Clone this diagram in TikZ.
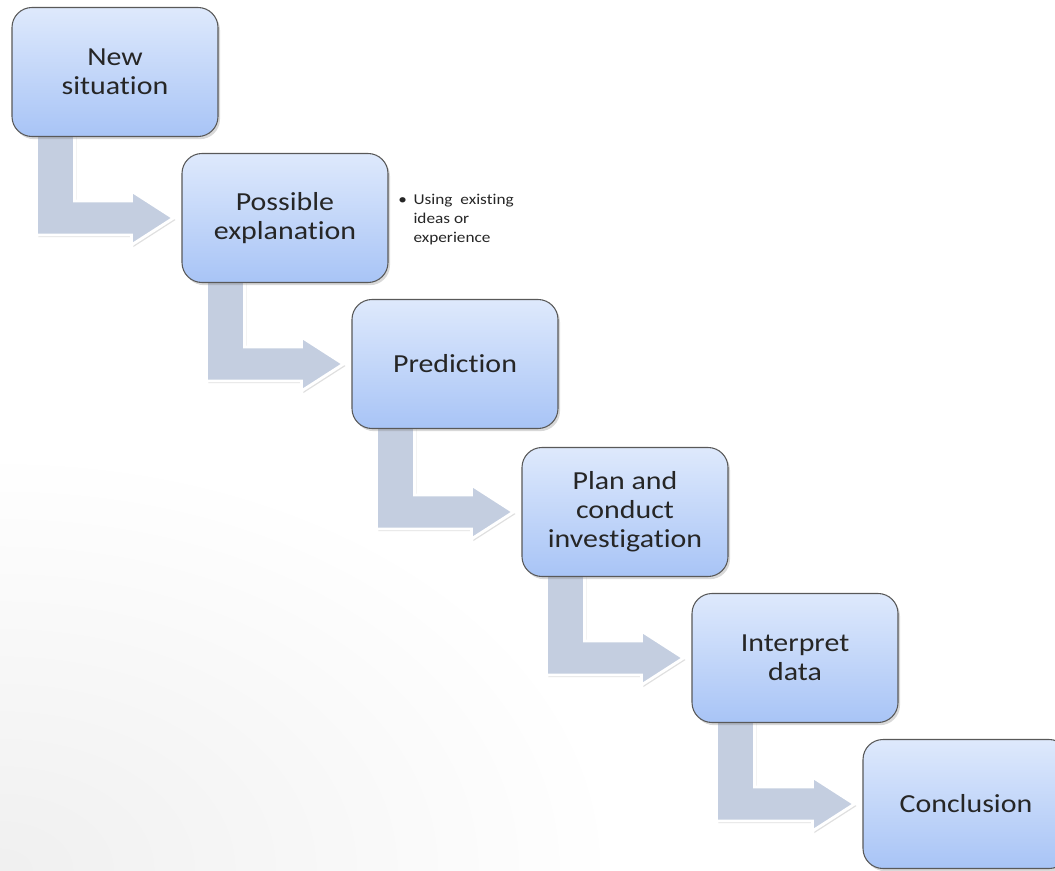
\documentclass[tikz,border=0pt]{standalone}
\usepackage{fontspec}
\setmainfont{Carlito}[FakeStretch=1.15, Ligatures=NoCommon]
\usetikzlibrary{calc,shadows}
\pgfdeclarelayer{backdrop}
\pgfdeclarelayer{background}
\pgfsetlayers{backdrop,background,main}

\definecolor{boxtop}{RGB}{222,233,252}
\definecolor{boxbottom}{RGB}{168,196,246}
\definecolor{arrowfill}{RGB}{196,206,224}
\definecolor{inktext}{RGB}{38,38,38}

\tikzset{
  stage/.style={draw=black!65, line width=0.8pt, rounded corners=15pt,
    top color=boxtop, bottom color=boxbottom,
    minimum width=154.5pt, minimum height=96.75pt,
    align=center, text=inktext, font=\fontsize{19.5}{21.75}\selectfont,
    drop shadow={shadow xshift=1.5pt, shadow yshift=-2pt, opacity=0.3}},
  flowarrow/.style={fill=arrowfill, draw=white, line width=2.2pt,
    drop shadow={shadow xshift=1.5pt, shadow yshift=-1.5pt, opacity=0.25}},
  note/.style={align=left, text=inktext, inner sep=0pt,
    font=\fontsize{11.25}{14.25}\selectfont}
}

% bent block arrow from under one box to the left side of the next
\newcommand\steparrow[2]{%
  \draw[flowarrow] ($(#1.south west)+(25,-10)$) -- ++(38,0)
    |- ($(#2.west)+(-50,-17)$) -- ++(0,-10) -- ($(#2.west)+(-8,0)$)
    -- ($(#2.west)+(-50,27)$) -- ++(0,-10) -| ($(#1.south west)+(25,-10)$) -- cycle;}

\begin{document}
\begin{tikzpicture}[x=0.75pt,y=-0.75pt]
  %%%%% START %%%%%
  \clip (0,0) rectangle (1055,870);
  \begin{pgfonlayer}{backdrop}
    \fill[white] (0,0) rectangle (1055,870);
    \shade[inner color=black!6, outer color=white]
      (0,870) ellipse [x radius=620, y radius=420];
  \end{pgfonlayer}

  \node[stage] (sit) at (115,72) {New\\situation};
  \node[stage] (expl) at (285,218) {Possible\\explanation};
  \node[stage] (pred) at (455,364) {Prediction};
  \node[stage] (plan) at (625,512) {Plan and\\conduct\\investigation};
  \node[stage] (interp) at (795,658) {Interpret\\data};
  \node[stage] (concl) at (966,804) {Conclusion};

  \node[note, anchor=north west] (idea) at (398,191)
    {\begin{tabular}{@{}l@{\hspace{5pt}}l@{}}
      \textbullet & Using\hspace{6pt}existing\\
      & ideas or\\
      & experience
    \end{tabular}};

  \begin{pgfonlayer}{background}
    \steparrow{sit}{expl}
    \steparrow{expl}{pred}
    \steparrow{pred}{plan}
    \steparrow{plan}{interp}
    \steparrow{interp}{concl}
  \end{pgfonlayer}
  %%%%% END %%%%%
\end{tikzpicture}
\end{document}
